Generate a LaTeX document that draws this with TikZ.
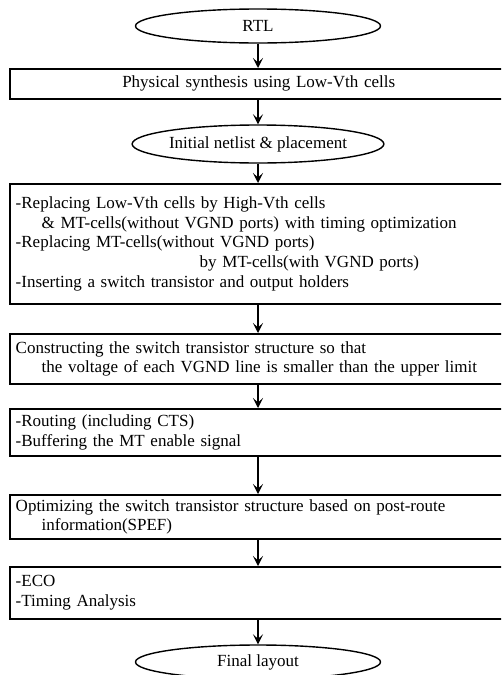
\documentclass[tikz,border=0pt]{standalone}
\usepackage{fontspec}
\setmainfont{Liberation Serif}
\usetikzlibrary{shapes.geometric,arrows.meta}
\begin{document}
\begin{tikzpicture}[x=1pt,y=-1pt,
  font=\fontsize{17}{19.6}\selectfont,
  box/.style={draw, line width=1.5pt, rectangle, minimum width=498pt, anchor=north west,
    inner xsep=5pt, inner ysep=0pt, text width=486pt, align=left},
  term/.style={draw, line width=1.4pt, ellipse, minimum width=245pt, minimum height=34pt, inner sep=0pt},
  arr/.style={line width=1.5pt, -{Stealth[length=10pt,width=10pt,inset=4.5pt]}}]
\useasboundingbox (0,0) rectangle (501,675);
\clip (0,0) rectangle (501,675);
\node[term] (rtl) at (258,26) {RTL};
\node[box, minimum height=30pt, align=center] (b1) at (9,68) {Physical synthesis using Low-Vth cells};
\node[term, minimum height=38pt] (e2) at (258,144) {Initial netlist \& placement};
\node[box, minimum height=120pt] (b3) at (9,183) {-Replacing Low-Vth cells by High-Vth cells\\
\hspace*{26pt}\& MT-cells(without VGND ports) with timing optimization\\
-Replacing MT-cells(without VGND ports)\\
\hspace*{184pt}by MT-cells(with VGND ports)\\
-Inserting a switch transistor and output holders};
\node[box, minimum height=50pt] (b4) at (9,333) {Constructing the switch transistor structure so that\\
\hspace*{26pt}the voltage of each VGND line is smaller than the upper limit};
\node[box, minimum height=47pt] (b5) at (9,408) {-Routing (including CTS)\\
-Buffering the MT enable signal};
\node[box, minimum height=44pt] (b6) at (9,494) {Optimizing the switch transistor structure based on post-route\\
\hspace*{26pt}information(SPEF)};
\node[box, minimum height=52pt] (b7) at (9,566) {-ECO\\
-Timing Analysis};
\node[term] (fin) at (258,662) {Final layout};
\draw[arr] (rtl.south) -- (rtl.south |- b1.north);
\draw[arr] (rtl.south |- b1.south) -- (e2.north);
\draw[arr] (e2.south) -- (e2.south |- b3.north);
\draw[arr] (e2.south |- b3.south) -- (e2.south |- b4.north);
\draw[arr] (e2.south |- b4.south) -- (e2.south |- b5.north);
\draw[arr] (e2.south |- b5.south) -- (e2.south |- b6.north);
\draw[arr] (e2.south |- b6.south) -- (e2.south |- b7.north);
\draw[arr] (e2.south |- b7.south) -- (fin.north);
\end{tikzpicture}
\end{document}
